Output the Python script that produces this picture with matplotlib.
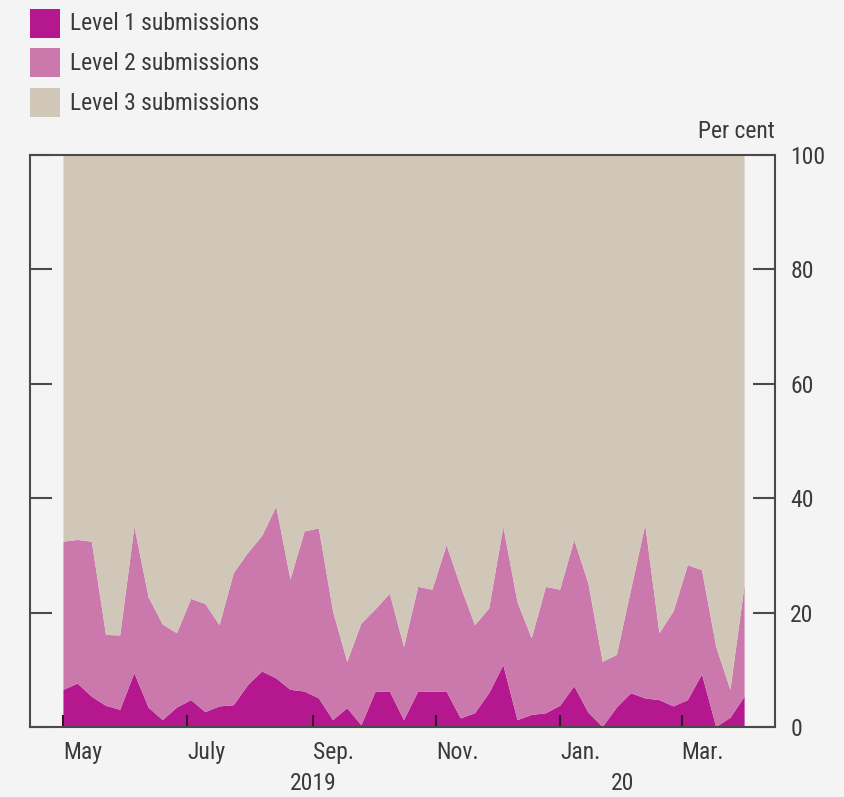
import matplotlib
matplotlib.use("Agg")
import matplotlib.pyplot as plt
from matplotlib import font_manager as fm
from matplotlib.font_manager import FontProperties
from matplotlib.patches import Rectangle
import pandas as pd

# ---- data (per cent of weekly submissions) ----
start_date = "2019-05-01"
n_weeks = 49
level1 = [6.5, 7.6, 5.3, 3.7, 3.0, 9.4, 3.4, 1.2, 3.4, 4.7,
          2.6, 3.6, 3.8, 7.3, 9.7, 8.5, 6.5, 6.2, 5.0, 1.2,
          3.3, 0.3, 6.2, 6.2, 1.2, 6.2, 6.2, 6.2, 1.5, 2.4,
          5.9, 10.8, 1.2, 2.1, 2.4, 3.7, 7.1, 2.5, 0.0, 3.4,
          5.9, 5.0, 4.7, 3.6, 4.7, 9.2, 0.0, 1.6, 5.3]
level2 = [25.9, 25.1, 27.1, 12.4, 13.0, 25.6, 19.3, 16.7, 13.0, 17.7,
          18.9, 14.2, 23.1, 23.1, 23.7, 30.0, 19.3, 28.0, 29.7, 19.0,
          8.1, 17.8, 14.4, 17.1, 12.8, 18.3, 17.8, 25.6, 23.0, 15.4,
          14.8, 24.2, 20.6, 13.4, 22.1, 20.3, 25.6, 22.5, 11.4, 9.2,
          18.1, 30.3, 11.7, 16.6, 23.6, 18.2, 14.0, 4.9, 19.5]
level3 = [67.6, 67.3, 67.6, 83.9, 84.0, 65.0, 77.3, 82.1, 83.6, 77.6,
          78.5, 82.2, 73.1, 69.6, 66.6, 61.5, 74.2, 65.8, 65.3, 79.8,
          88.6, 81.9, 79.4, 76.7, 86.0, 75.5, 76.0, 68.2, 75.5, 82.2,
          79.3, 65.0, 78.2, 84.5, 75.5, 76.0, 67.3, 75.0, 88.6, 87.4,
          76.0, 64.7, 83.6, 79.8, 71.7, 72.6, 86.0, 93.5, 75.2]
series_labels = ["Level 1 submissions", "Level 2 submissions", "Level 3 submissions"]
month_ticks = ["2019-05-01", "2019-07-01", "2019-09-01", "2019-11-01", "2020-01-01", "2020-03-01"]
month_labels = ["May", "July", "Sep.", "Nov.", "Jan.", "Mar."]
year_labels = [("2019-09-01", "2019"), ("2020-02-01", "20")]
y_ticks = [0, 20, 40, 60, 80, 100]

dates = pd.date_range(start_date, periods=n_weeks, freq="7D")

# ---- font choice: prefer a condensed sans if one is installed ----
def pick_font():
    prefer = ["Liberation Sans Narrow", "Roboto Condensed", "Open Sans Condensed",
              "Noto Sans Condensed", "DejaVu Sans"]
    cands = []
    for f in fm.fontManager.ttflist:
        st = str(f.stretch).lower()
        if ("condensed" in st or "narrow" in f.name.lower() or "condensed" in f.name.lower()) \
                and f.style == "normal" and f.weight in (400, "normal", "regular"):
            if "extra" in st or "ultra" in st:
                continue
            cands.append(f)
    for p in prefer:
        for f in cands:
            if f.name == p:
                return FontProperties(fname=f.fname), 17
    if cands:
        return FontProperties(fname=cands[0].fname), 17
    return FontProperties(family="Lato"), 15.5

fp_base, fs = pick_font()
fp = fp_base.copy()
fp.set_size(fs)

colors = ["#b5178e", "#cb78ad", "#d1c7b9"]
bg = "#f4f4f4"
frame_c = "#4a4a4a"
text_c = "#3a3a3a"

W, H = 844, 797
fig = plt.figure(figsize=(W/100, H/100), dpi=100, facecolor=bg)
ax = fig.add_axes([30/W, 1-727/H, (775-30)/W, (727-155)/H])
ax.set_facecolor(bg)

ax.stackplot(dates, level1, level2, level3, colors=colors, linewidth=0)

ax.set_xlim(pd.Timestamp("2019-04-14 12:00"), pd.Timestamp("2020-04-16"))
ax.set_ylim(0, 100)

for s in ax.spines.values():
    s.set_color(frame_c)
    s.set_linewidth(1.5)

# y axis on right
ax.yaxis.tick_right()
ax.set_yticks(y_ticks)
ax.set_yticklabels([str(v) for v in y_ticks])
ax.tick_params(axis='y', which='both', direction='in', length=16, width=1.5,
               color=frame_c, left=True, right=True, labelleft=False,
               labelright=True, labelcolor=text_c, pad=11)

xt = [pd.Timestamp(d) for d in month_ticks]
ax.set_xticks(xt)
ax.set_xticklabels(month_labels, ha='left')
ax.tick_params(axis='x', direction='in', length=9, width=1.5, color="#3a1030",
               labelcolor=text_c, pad=10)

for lab in ax.get_xticklabels() + ax.get_yticklabels():
    lab.set_fontproperties(fp)

for d, lab in year_labels:
    ax.annotate(lab, xy=(pd.Timestamp(d), 0), xycoords=('data', 'axes fraction'),
                xytext=(0, -41), textcoords='offset points', ha='center', va='center',
                fontproperties=fp, color=text_c)

ax.text(1.0, 1 + 17/572, "Per cent", transform=ax.transAxes, ha='right',
        va='baseline', fontproperties=fp, color=text_c)

# legend (manual, figure pixel layout)
leg_top = [9, 48, 88]
for top, c, lab in zip(leg_top, colors, series_labels):
    fig.add_artist(Rectangle((30/W, 1-(top+29)/H), 30/W, 29/H, transform=fig.transFigure,
                             facecolor=c, edgecolor='none'))
    fig.text(70/W, 1-(top+15)/H, lab, ha='left', va='center', fontproperties=fp,
             color=text_c)

fig.savefig("out.png", dpi=100, facecolor=bg)
